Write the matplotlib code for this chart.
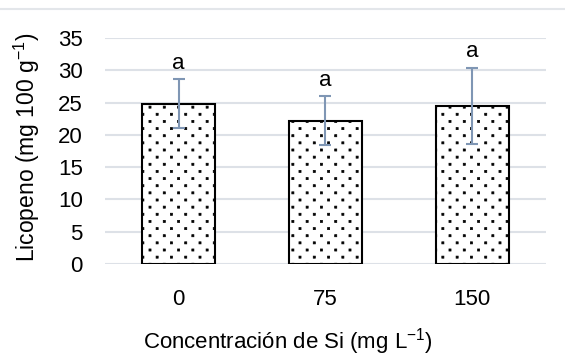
import warnings
import numpy as np
import matplotlib
matplotlib.use("Agg")
import matplotlib.pyplot as plt
from matplotlib import hatch as mhatch
from matplotlib.path import Path
from matplotlib.lines import Line2D

warnings.filterwarnings('ignore')
plt.rcParams['font.family'] = ['Liberation Sans', 'DejaVu Sans']
plt.rcParams['mathtext.fontset'] = 'custom'
plt.rcParams['mathtext.rm'] = 'Liberation Sans'
plt.rcParams['mathtext.it'] = 'Liberation Sans:italic'
plt.rcParams['hatch.linewidth'] = 0.5

# Licopeno según concentración de Si
categorias = ['0', '75', '150']
licopeno = [24.8, 22.2, 24.5]
error = [3.8, 3.8, 5.9]
letras = ['a', 'a', 'a']


class PuntosHatch(mhatch.HatchPatternBase):
    """Trama de puntos cuadrados al tresbolillo, filas juntas y columnas separadas."""

    def __init__(self, hatch, density):
        self.filas = 14
        self.cols = 7
        self.lado = 0.021
        n = 0
        if ':' in hatch:
            for r in range(self.filas + 1):
                n += self.cols + 1 if r % 2 == 0 else self.cols
        self.num_vertices = n * 5

    def set_vertices_and_codes(self, vertices, codes):
        h = self.lado / 2
        cuadro = np.array([[-h, -h], [h, -h], [h, h], [-h, h], [-h, -h]])
        cod = [Path.MOVETO, Path.LINETO, Path.LINETO, Path.LINETO, Path.CLOSEPOLY]
        i = 0
        for r in range(self.filas + 1):
            y = r / self.filas
            if r % 2 == 0:
                xs = np.linspace(0, 1, self.cols + 1)
            else:
                xs = np.linspace(0.5 / self.cols, 1 - 0.5 / self.cols, self.cols)
            for x in xs:
                vertices[i * 5:(i + 1) * 5] = cuadro + [x, y]
                codes[i * 5:(i + 1) * 5] = cod
                i += 1


mhatch._hatch_types.append(PuntosHatch)

fig = plt.figure(figsize=(5.65, 3.58), dpi=100)
ax = fig.add_axes([0.186, 0.2626, 0.780, 0.6313])

x = range(len(categorias))
ax.bar(x, licopeno, width=0.5, color='white', edgecolor='black',
       linewidth=1.5, hatch=':', zorder=2)
ax.errorbar(x, licopeno, yerr=error, fmt='none', ecolor='#7f96b4',
            elinewidth=1.5, capsize=4.5, capthick=1.5, zorder=3)

for xi, v, e, t in zip(x, licopeno, error, letras):
    ax.annotate(t, (xi, v + e), xytext=(0, 4), textcoords='offset points',
                ha='center', va='bottom', fontsize=16)

ax.set_xlim(-0.5, 2.5)
ax.set_ylim(0, 35)
ax.set_yticks(range(0, 36, 5))
ax.set_xticks(list(x))
ax.set_xticklabels(categorias)
ax.yaxis.grid(True, color='#dde1e7', linewidth=1.5, zorder=0)
ax.set_axisbelow(True)
for s in ax.spines.values():
    s.set_visible(False)
ax.tick_params(axis='both', length=0, labelsize=16)
ax.tick_params(axis='y', pad=16)
ax.tick_params(axis='x', pad=18)

# títulos de ejes centrados en el área del gráfico
fig.text(0.047, 0.590, 'Licopeno (mg 100 g$^{\\mathrm{-1}}$)', rotation=90,
         ha='center', va='center', fontsize=16.5)
fig.text(0.509, 0.047, 'Concentración de Si (mg L$^{\\mathrm{-1}}$)',
         ha='center', va='center', fontsize=16)

# línea superior del recuadro del gráfico
fig.add_artist(Line2D([0, 1], [0.976, 0.976], transform=fig.transFigure,
                      color='#e3e6ea', linewidth=1.5))

fig.savefig('out.png', dpi=100)
